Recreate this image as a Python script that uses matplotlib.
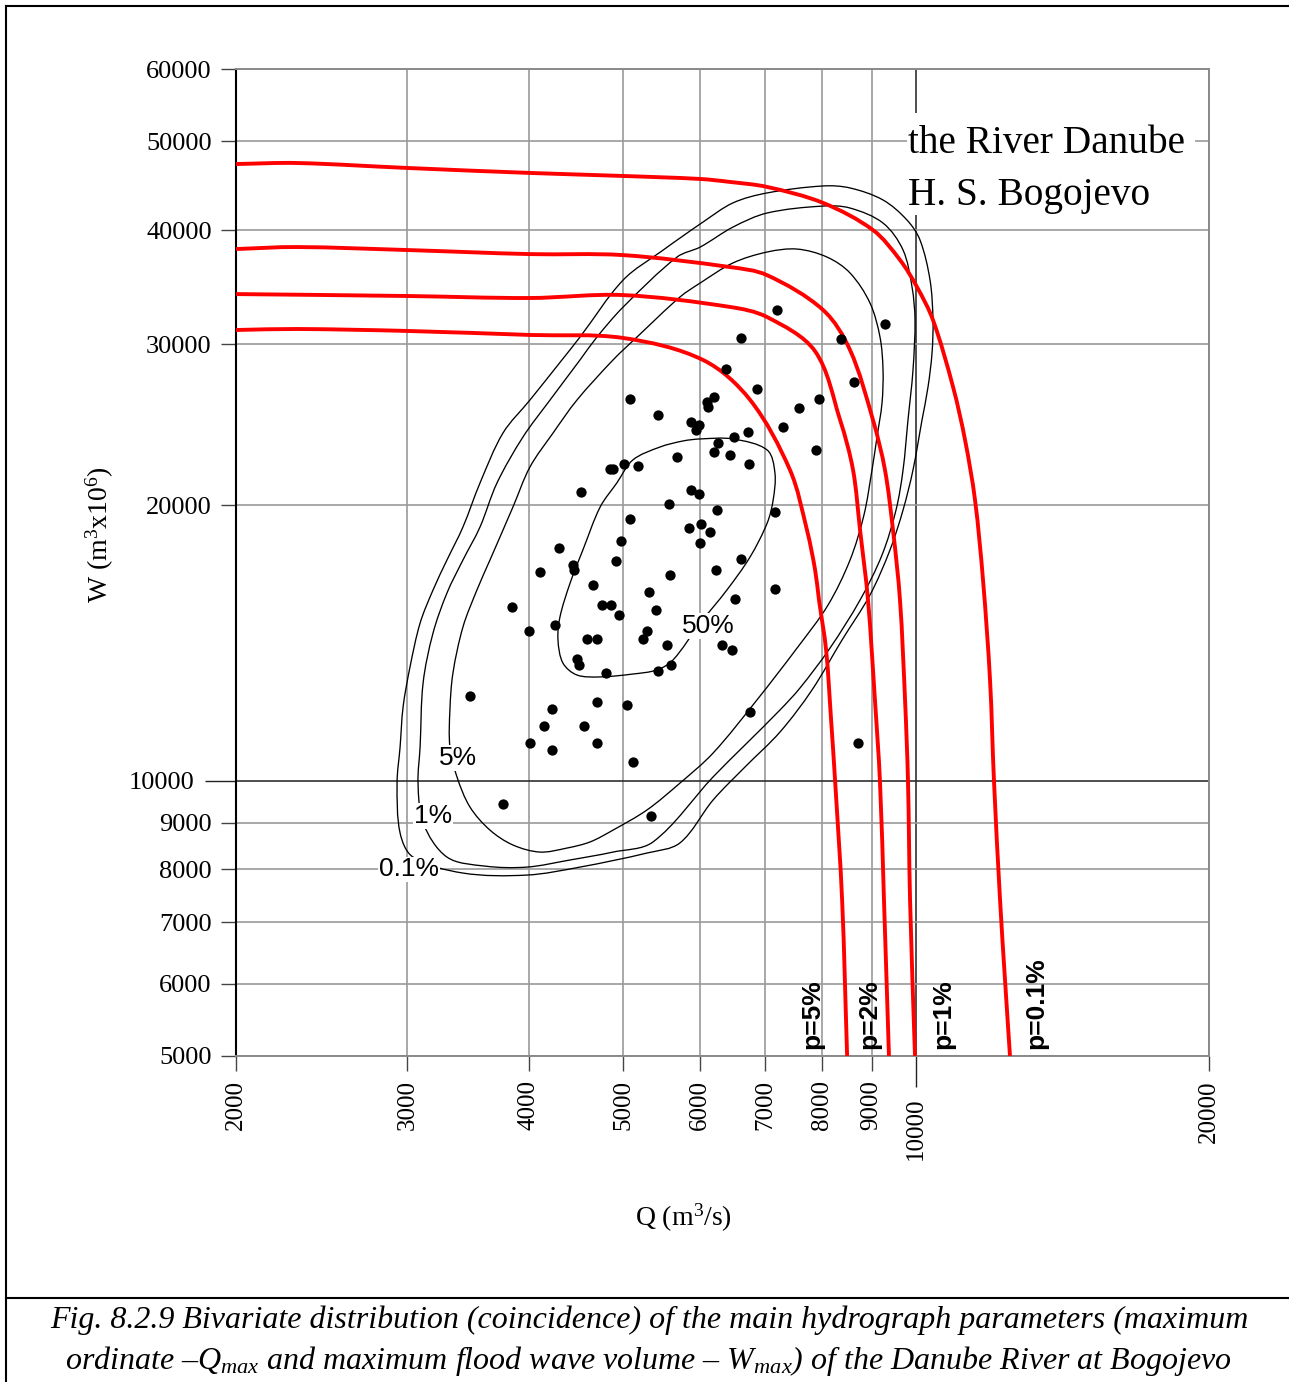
import numpy as np
import matplotlib
matplotlib.use('Agg')
import matplotlib.pyplot as plt
from matplotlib.path import Path
from matplotlib.patches import PathPatch, Rectangle
from matplotlib.lines import Line2D
from matplotlib.ticker import FixedLocator, FixedFormatter

plt.rcParams['mathtext.fontset'] = 'custom'
plt.rcParams['mathtext.rm'] = 'Liberation Serif'
plt.rcParams['mathtext.it'] = 'Liberation Serif:italic'

# observed flood waves: peak discharge Q (m3/s) and volume W (10^6 m3)
q_obs = [7200, 6610, 8370, 9290, 6380, 8630, 6860, 7950, 7580, 5080, 6200, 6100, 6110, 5430, 5870,
         5980, 5940, 7300, 6720, 6500, 7890, 6260, 6200, 6440, 6730, 4850, 4880, 5010, 5180, 5680,
         4530, 5870, 5980, 5570, 6240, 7160, 5080, 5840, 6010, 6140, 6000, 4970, 4300, 6610, 4920,
         4440, 4450, 4110, 6230, 5590, 4660, 5320, 7160, 3840, 4760, 4860, 5400, 6510, 4950, 4250,
         4000, 4590, 4700, 5290, 5240, 5550, 6320, 6470, 4480, 4500, 5600, 5430, 4800, 3480, 4700,
         5050, 4220, 6750, 4150, 4560, 4010, 4220, 4700, 5120, 8720, 3760, 5340]
w_obs = [32710, 30480, 30400, 31570, 28190, 27290, 26810, 26140, 25550, 26140, 26270, 25940, 25620,
         25110, 24670, 24480, 24180, 24360, 24060, 23750, 22990, 23400, 22880, 22700, 22200, 21920,
         21920, 22200, 22090, 22590, 20690, 20790, 20580, 20070, 19770, 19670, 19330, 18890, 19090,
         18700, 18190, 18290, 17970, 17480, 17390, 17210, 17000, 16910, 17000, 16790, 16370, 16080,
         16200, 15490, 15560, 15560, 15370, 15800, 15180, 14800, 14580, 14290, 14290, 14580, 14290,
         14080, 14080, 13900, 13590, 13380, 13380, 13180, 13120, 12380, 12190, 12100, 11980, 11890,
         11480, 11480, 11000, 10800, 11000, 10480, 11000, 9430, 9150]

# closed iso-lines of the joint density
q_c50 = [5760, 6000, 6480, 7030, 7160, 7130, 7030, 6750, 6390, 6000, 5625, 5415, 5115, 4735, 4480,
         4335, 4285, 4305, 4410, 4545, 4735, 4925, 5115, 5455]
w_c50 = [23520, 23640, 23640, 22990, 21700, 20275, 19130, 17560, 16160, 14870, 13550, 13215, 13080,
         12985, 13050, 13450, 14250, 15100, 16450, 17875, 19920, 21160, 22420, 23165]

q_c5 = [3374, 3318, 3318, 3342, 3422, 3537, 3648, 3852, 4010, 4235, 4482, 4881, 5166, 5719, 6000,
        6483, 7027, 7545, 8099, 8553, 8966, 9181, 9247, 9225, 9116, 9009, 8839, 8553, 8118, 7545,
        6862, 6185, 5719, 5290, 4881, 4622, 4377, 4107, 3852, 3648, 3479]
w_c5 = [10095, 10885, 11950, 13115, 14725, 16160, 17430, 19920, 22030, 23995, 26075, 28840, 30555,
        33795, 35010, 36820, 37845, 38130, 37370, 35900, 33290, 30555, 28125, 25880, 23755, 21865,
        19520, 17430, 15560, 13965, 12255, 10720, 9940, 9290, 8830, 8570, 8440, 8355, 8505, 8830, 9360]

q_c1 = [3077, 3092, 3114, 3188, 3295, 3422, 3563, 3709, 3944, 4205, 4514, 4699, 5000, 5679, 6000,
        6483, 7027, 8023, 8553, 9247, 9696, 9904, 9974, 9927, 9810, 9696, 9536, 9225, 8758, 8157,
        7598, 7247, 6670, 6185, 5365, 4881, 4408, 3982, 3605, 3295, 3114]
w_c1 = [9940, 10885, 12790, 14500, 16040, 17430, 18940, 21160, 23755, 26075, 28840, 30555, 32955,
        37370, 38325, 40300, 41750, 42490, 42280, 40710, 38035, 34660, 31890, 28125, 24795, 21865,
        19770, 17650, 15760, 13965, 12630, 11950, 10940, 10095, 8570, 8355, 8190, 8045, 8065, 8250, 8990]

q_c01 = [3041, 2949, 2928, 2949, 2970, 3019, 3092, 3188, 3295, 3422, 3563, 3762, 4010, 4325, 4514,
         5000, 5480, 6040, 6483, 7027, 8023, 8553, 9247, 9787, 10093, 10335, 10408, 10384, 10286,
         10141, 9927, 9696, 9401, 8966, 8392, 7816, 7247, 6670, 6185, 5719, 5290, 4514, 3982, 3422]
w_c01 = [8250, 8765, 9940, 10885, 12040, 13315, 14870, 16160, 17430, 18940, 21160, 23995, 26075,
         28840, 30555, 35275, 37950, 40815, 42830, 43915, 44695, 44470, 43145, 41020, 39005, 35275,
         31890, 29350, 26945, 24795, 21865, 19770, 17875, 15960, 14250, 12565, 11305, 10350, 9525,
         8550, 8335, 8045, 7885, 7925]

contour_names = ['50%', '5%', '1%', '0.1%']
contour_label_q = [6110, 3382, 3187, 3012]
contour_label_w = [14760, 10585, 9150, 8000]

# joint exceedance probability curves
q_p5 = [2000, 2310, 3004, 4010, 4997, 6040, 6752, 7420, 7724, 7874, 7947, 8082, 8178, 8256, 8394, 8494]
w_p5 = [31100, 31180, 31025, 30715, 30485, 28840, 26080, 21860, 18795, 17000, 15760, 13895, 11650,
        9990, 7405, 5000]
q_p2 = [2000, 3004, 4010, 4997, 6438, 7026, 7870, 8354, 8614, 8758, 8924, 9072, 9180, 9268, 9378]
w_p2 = [34045, 33880, 33710, 33960, 32960, 32135, 29500, 24795, 21860, 18795, 15760, 12250, 9990,
        7405, 5000]
q_p1 = [2000, 2310, 3004, 4010, 4997, 6438, 7026, 8024, 8552, 9030, 9290, 9468, 9626, 9742, 9810,
        9858, 9974]
w_p1 = [38135, 38325, 38035, 37650, 37555, 36440, 35710, 32710, 29580, 24795, 21860, 18795, 15760,
        12250, 9990, 7405, 5000]
q_p01 = [2000, 2310, 3004, 4010, 4997, 5998, 6438, 7026, 8024, 9030, 9626, 10022, 10408, 10914,
         11228, 11496, 11716, 11912, 12024, 12198, 12342, 12488]
w_p01 = [47235, 47355, 46765, 46185, 45835, 45490, 45150, 44590, 42830, 40000, 37100, 34650, 31890,
         26945, 23580, 20275, 16570, 12885, 9990, 7405, 6055, 5000]

p_names = ['p=5%', 'p=2%', 'p=1%', 'p=0.1%']
p_label_q = [7816, 8945, 10658, 13284]

x_major = [2000, 3000, 4000, 5000, 6000, 7000, 8000, 9000, 20000]
y_major = [5000, 6000, 7000, 8000, 9000, 20000, 30000, 40000, 50000, 60000]

# pixels per decade on each axis, used to smooth in screen-like space
XDEC, YDEC = 973.0, 914.6


def smooth_path(q, w, closed=False):
    # chord-length Hermite spline through the points, built in log space
    pts = np.column_stack([np.log10(q) * XDEC, np.log10(w) * YDEC])
    if closed:
        ext = np.vstack([pts[-1], pts, pts[0], pts[1]])
    else:
        ext = np.vstack([2 * pts[0] - pts[1], pts, 2 * pts[-1] - pts[-2]])
    verts = [ext[1]]
    codes = [Path.MOVETO]
    for i in range(1, len(ext) - 2):
        p0, p1, p2, p3 = ext[i - 1], ext[i], ext[i + 1], ext[i + 2]
        d01 = np.hypot(*(p1 - p0)) + 1e-9
        d12 = np.hypot(*(p2 - p1)) + 1e-9
        d23 = np.hypot(*(p3 - p2)) + 1e-9
        m1 = (p2 - p0) / (d01 + d12)
        m2 = (p3 - p1) / (d12 + d23)
        verts += [p1 + m1 * d12 / 3, p2 - m2 * d12 / 3, p2]
        codes += [Path.CURVE4] * 3
    verts = np.array(verts)
    return Path(np.column_stack([10 ** (verts[:, 0] / XDEC), 10 ** (verts[:, 1] / YDEC)]), codes)


fig = plt.figure(figsize=(12.89, 13.82), dpi=100)
ax = fig.add_axes([236 / 1289, 1 - 1056 / 1382, 973 / 1289, 987 / 1382])
ax.set_xscale('log')
ax.set_yscale('log')
ax.set_xlim(2000, 20000)
ax.set_ylim(5000, 60000)

ax.xaxis.set_major_locator(FixedLocator(x_major))
ax.xaxis.set_major_formatter(FixedFormatter([str(v) for v in x_major]))
ax.xaxis.set_minor_locator(FixedLocator([10000]))
ax.xaxis.set_minor_formatter(FixedFormatter(['10000']))
ax.yaxis.set_major_locator(FixedLocator(y_major))
ax.yaxis.set_major_formatter(FixedFormatter([str(v) for v in y_major]))
ax.yaxis.set_minor_locator(FixedLocator([10000]))
ax.yaxis.set_minor_formatter(FixedFormatter(['10000']))

ax.tick_params(axis='x', which='major', length=11, width=1, color='#444444', pad=6.5,
               labelsize=18, labelrotation=90)
ax.tick_params(axis='x', which='minor', length=22, width=1, color='#222222', pad=8,
               labelsize=18, labelrotation=90)
ax.tick_params(axis='y', which='major', length=11, width=1, color='#444444', pad=6.5, labelsize=19)
ax.tick_params(axis='y', which='minor', length=22, width=1, color='#222222', pad=8, labelsize=19)
for lab in ax.get_xticklabels(which='both') + ax.get_yticklabels(which='both'):
    lab.set_family('Liberation Serif')

ax.set_axisbelow(True)
ax.grid(which='major', color='#9a9a9a', linewidth=1.2)
ax.grid(which='minor', color='#303030', linewidth=1.2)
for side in ['top', 'right', 'bottom']:
    ax.spines[side].set_color('#8a8a8a')
    ax.spines[side].set_linewidth(1.4)
ax.spines['left'].set_color('black')
ax.spines['left'].set_linewidth(1.5)

# density iso-lines
for q, w in [(q_c50, w_c50), (q_c5, w_c5), (q_c1, w_c1), (q_c01, w_c01)]:
    ax.add_patch(PathPatch(smooth_path(q, w, closed=True), fill=False,
                           edgecolor='black', linewidth=0.95, zorder=2))
for name, q, w in zip(contour_names, contour_label_q, contour_label_w):
    ax.text(q, w, name, family='Liberation Sans', fontsize=19, ha='center', va='center', zorder=3,
            bbox=dict(facecolor='white', edgecolor='none', pad=0.5))

# exceedance curves
for q, w in [(q_p5, w_p5), (q_p2, w_p2), (q_p1, w_p1), (q_p01, w_p01)]:
    ax.add_patch(PathPatch(smooth_path(q, w), fill=False, edgecolor='#ff0000',
                           linewidth=2.8, capstyle='butt', zorder=4))
for name, q in zip(p_names, p_label_q):
    ax.text(q, 5090, name, family='Liberation Sans', fontweight='bold', fontsize=19,
            rotation=90, ha='center', va='bottom', zorder=5)

ax.scatter(q_obs, w_obs, s=55, color='black', linewidths=0, zorder=6)

# station title with white background
ax.add_patch(Rectangle((0.6896, 0.8521), 0.296, 0.1033, transform=ax.transAxes,
                       facecolor='white', edgecolor='none', zorder=7))
ax.text(0.6906, 0.9149, 'the River Danube', transform=ax.transAxes, family='Liberation Serif',
        fontsize=28.3, va='baseline', ha='left', zorder=8)
ax.text(0.6906, 0.8622, 'H. S. Bogojevo', transform=ax.transAxes, family='Liberation Serif',
        fontsize=28.3, va='baseline', ha='left', zorder=8)

fig.text(100 / 1289, 1 - 535 / 1382, r'W (m$^3$x10$^6$)', family='Liberation Serif',
         fontsize=20, rotation=90, ha='center', va='center')
fig.text(683 / 1289, 1 - 1218 / 1382, r'Q (m$^3$/s)', family='Liberation Serif',
         fontsize=20, ha='center', va='center')

# frame and caption
fig.add_artist(Line2D([6 / 1289, 6 / 1289], [0, 1 - 6 / 1382], color='black', linewidth=1.5,
                      transform=fig.transFigure))
fig.add_artist(Line2D([6 / 1289, 1], [1 - 6 / 1382, 1 - 6 / 1382], color='black', linewidth=1.5,
                      transform=fig.transFigure))
fig.add_artist(Line2D([6 / 1289, 1], [1 - 1298 / 1382, 1 - 1298 / 1382], color='black',
                      linewidth=1.5, transform=fig.transFigure))
fig.text(649 / 1289, 1 - 1320 / 1382,
         'Fig. 8.2.9 Bivariate distribution (coincidence) of the main hydrograph parameters (maximum',
         family='Liberation Serif', style='italic', fontsize=23, ha='center', va='center')
fig.text(648 / 1289, 1 - 1361 / 1382,
         r'ordinate –$Q_{max}$ and maximum flood wave volume – $W_{max}$) of the Danube River at Bogojevo',
         family='Liberation Serif', style='italic', fontsize=23, ha='center', va='center')

fig.savefig('out.png', dpi=100)
